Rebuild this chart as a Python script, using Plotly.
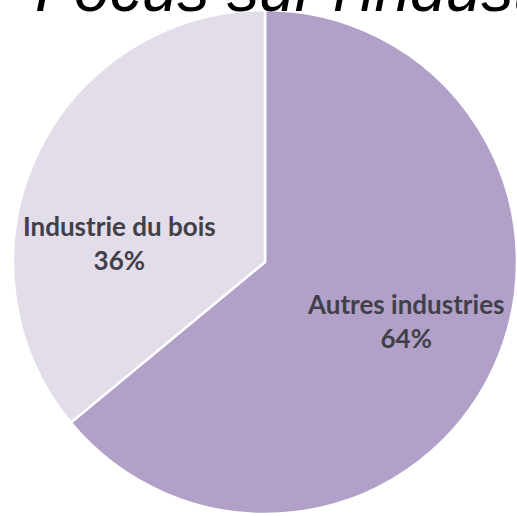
import plotly.graph_objects as go

labels = ["Autres industries", "Industrie du bois"]
values = [64, 36]
colors = ["#B1A1C8", "#E3DDEA"]
title_text = "Focus sur l'industrie du bois"

# label positions (paper coords) for each slice label
label_x = [0.778, 0.212]
label_y = [0.382, 0.538]

fig = go.Figure(go.Pie(
    labels=labels,
    values=values,
    sort=False,
    direction="clockwise",
    rotation=0,
    marker=dict(colors=colors, line=dict(color="white", width=2.5)),
    textinfo="none",
    hoverinfo="label+percent",
    showlegend=False,
))

annotations = []
for lab, v, x, y in zip(labels, values, label_x, label_y):
    pct = round(100 * v / sum(values))
    annotations.append(dict(
        text=f"{lab}<br>{pct}%",
        x=x, y=y, xref="paper", yref="paper",
        xanchor="center", yanchor="middle",
        showarrow=False,
        font=dict(family="Lato", size=26, color="#414049", weight="bold"),
    ))

annotations.append(dict(
    text=title_text,
    x=0.04, y=1, xref="paper", yref="paper",
    xanchor="left", yanchor="bottom", yshift=-17,
    showarrow=False,
    font=dict(family="Liberation Sans", size=64, color="black", style="italic"),
))

fig.update_layout(
    width=517, height=516,
    margin=dict(l=13, r=0, t=10, b=2),
    paper_bgcolor="white",
    plot_bgcolor="white",
    annotations=annotations,
)

fig.write_html("out.html", config={"displayModeBar": False},
               post_script="document.body.style.margin='0';")
